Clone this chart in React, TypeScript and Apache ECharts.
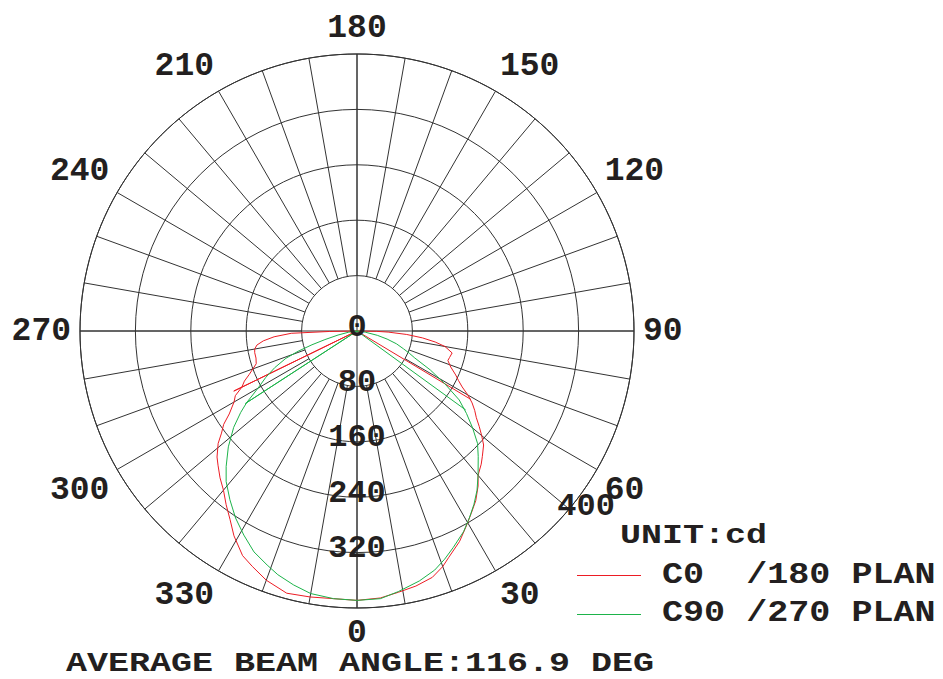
import React, { useEffect, useRef } from "react";
import * as echarts from "echarts";

// ---- data ----
const radiusTicks = [0, 80, 160, 240, 320];
const outerTick = 400;
const outerTickAngle = 52.6;

// C0/180 plane (red): angle (deg, 0 = nadir) and intensity (cd)
const c0Angles = [90, 89, 88, 86, 84, 82, 80, 77, 74, 72, 69, 66, 64, 62, 60, 58, 56, 54, 52, 50, 48, 45, 43, 40, 38, 35, 32, 29, 26, 22, 20, 17, 13, 9, 5, 0,
  -5, -10, -15, -20, -24, -27, -31, -34, -37, -40, -43, -46, -48, -51, -53, -55, -57, -60, -62, -64, -66, -68, -70, -72, -75, -78, -80, -82, -84, -86, -88, -89, -90];
const c0Values = [0, 28, 45, 72, 95, 114, 129, 141, 139, 138, 145, 156, 163, 172, 185, 196, 205, 213, 224, 235, 246, 256, 263, 272, 284, 299, 311, 324, 338, 353, 362, 372, 378, 382, 387, 389,
  388, 390, 392, 383, 372, 364, 345, 328, 314, 300, 290, 279, 272, 258, 245, 235, 220, 205, 199, 185, 178, 168, 160, 153, 151, 151, 150, 146, 136, 120, 95, 40, 0];
const c0Chords = [[198, -64], [0, 0], [192, 59]];

// C90/270 plane (green)
const c90Angles = [90, 86, 82, 78, 75, 72, 69, 67, 65, 62, 59, 56, 53, 50, 47, 44, 40, 37, 34, 31, 28, 24, 21, 18, 14, 9, 5, 0,
  -5, -10, -14, -18, -21, -25, -29, -33, -37, -41, -44, -48, -52, -55, -57, -60, -63, -66, -69, -71, -73, -75, -78, -82, -86, -90];
const c90Values = [0, 4, 12, 30, 45, 60, 72, 82, 92, 120, 148, 178, 198, 218, 238, 252, 272, 288, 302, 315, 328, 342, 353, 363, 372, 381, 388, 389,
  388, 385, 378, 370, 362, 352, 337, 322, 305, 288, 272, 250, 226, 205, 190, 165, 148, 130, 110, 90, 68, 48, 28, 12, 4, 0];
const c90Chords = [[192, -57], [0, 0], [194, 54]];

const seriesNames = ["C0  /180 PLAN", "C90 /270 PLAN"];
const seriesColors = ["#ec1c24", "#1db34a"];
const unitText = "UNIT:cd";
const titleText = "AVERAGE BEAM ANGLE:116.9 DEG";

const FONT = "Liberation Mono";
const INK = "#231f20";
const GRID = "#333333";

function toPolar(angles: number[], values: number[], chords: number[][]) {
  const pts = angles.map((a, i) => [values[i], (a + 360) % 360]);
  chords.forEach((c) => pts.push([c[0], (c[1] + 360) % 360]));
  return pts;
}

export default function App() {
  const ref = useRef<HTMLDivElement>(null);
  useEffect(() => {
    if (!ref.current) return;
    const chart = echarts.init(ref.current, undefined, { renderer: "svg" });
    const center = [357, 331];
    const R = 277;
    const inner = (R * 80) / 400;
    const labelFont = { fontFamily: FONT, fontWeight: "bold" as const, color: INK };
    const option: any = {
      animation: false,
      backgroundColor: "#ffffff",
      polar: [
        { center, radius: [inner, R] },
        { center, radius: [0, R] },
      ],
      angleAxis: [
        {
          polarIndex: 0,
          type: "value",
          min: 0,
          max: 360,
          interval: 10,
          startAngle: 270,
          clockwise: false,
          axisLine: { show: false },
          axisTick: { show: false },
          axisLabel: {
            show: true,
            margin: 9,
            fontSize: 33,
            ...labelFont,
            formatter: (v: number) => (v % 30 === 0 && v < 360 ? String(v) : ""),
          },
          splitLine: { show: true, lineStyle: { color: GRID, width: 1 } },
        },
        {
          polarIndex: 1,
          type: "value",
          min: 0,
          max: 360,
          interval: 90,
          startAngle: 270,
          clockwise: false,
          axisLine: { show: true, lineStyle: { color: GRID, width: 1 } },
          axisTick: { show: false },
          axisLabel: { show: false },
          splitLine: { show: true, lineStyle: { color: GRID, width: 1 } },
        },
      ],
      radiusAxis: [
        { polarIndex: 0, type: "value", min: 80, max: 400, show: false, splitLine: { show: false } },
        {
          polarIndex: 1,
          type: "value",
          min: 0,
          max: 400,
          interval: 80,
          axisLine: { show: false },
          axisTick: { show: false },
          axisLabel: { show: false },
          splitLine: { show: true, lineStyle: { color: GRID, width: 1 } },
        },
      ],
      series: [
        {
          name: seriesNames[0],
          type: "line",
          coordinateSystem: "polar",
          polarIndex: 1,
          data: toPolar(c0Angles, c0Values, c0Chords),
          showSymbol: false,
          symbol: "none",
          lineStyle: { color: seriesColors[0], width: 1 },
          z: 3,
        },
        {
          name: seriesNames[1],
          type: "line",
          coordinateSystem: "polar",
          polarIndex: 1,
          data: toPolar(c90Angles, c90Values, c90Chords),
          showSymbol: false,
          symbol: "none",
          lineStyle: { color: seriesColors[1], width: 1 },
          z: 4,
        },
        {
          type: "scatter",
          coordinateSystem: "polar",
          polarIndex: 1,
          silent: true,
          symbolSize: 1,
          itemStyle: { color: "rgba(0,0,0,0)", opacity: 1 },
          data: [
            ...radiusTicks.map((v) => ({ name: String(v), value: [v, 0] })),
            { name: String(outerTick), value: [outerTick, outerTickAngle], label: { offset: [9, 7] } },
          ],
          label: {
            show: true,
            position: "inside",
            offset: [0, -4],
            formatter: "{b}",
            fontSize: 32,
            opacity: 1,
            ...labelFont,
          },
          z: 5,
        },
      ],
      graphic: [
        {
          type: "text",
          x: 620,
          y: 536,
          scaleX: 1.25,
          style: { text: unitText, font: `bold 28px "${FONT}"`, fill: INK, verticalAlign: "middle" },
        },
        {
          type: "line",
          shape: { x1: 577, y1: 575.5, x2: 641, y2: 575.5 },
          style: { stroke: seriesColors[0], lineWidth: 1 },
        },
        {
          type: "line",
          shape: { x1: 577, y1: 614.5, x2: 641, y2: 614.5 },
          style: { stroke: seriesColors[1], lineWidth: 1 },
        },
        {
          type: "text",
          x: 662,
          y: 575,
          scaleX: 1.17,
          style: { text: seriesNames[0], font: `bold 30px "${FONT}"`, fill: INK, verticalAlign: "middle" },
        },
        {
          type: "text",
          x: 662,
          y: 613,
          scaleX: 1.17,
          style: { text: seriesNames[1], font: `bold 30px "${FONT}"`, fill: INK, verticalAlign: "middle" },
        },
        {
          type: "text",
          x: 66,
          y: 664,
          scaleX: 1.25,
          style: { text: titleText, font: `bold 28px "${FONT}"`, fill: INK, verticalAlign: "middle" },
        },
      ],
    };
    chart.setOption(option);
    return () => chart.dispose();
  }, []);
  return (
    <div
      ref={ref}
      style={{ position: "fixed", left: 0, top: 0, width: 943, height: 679, background: "#fff" }}
    />
  );
}
